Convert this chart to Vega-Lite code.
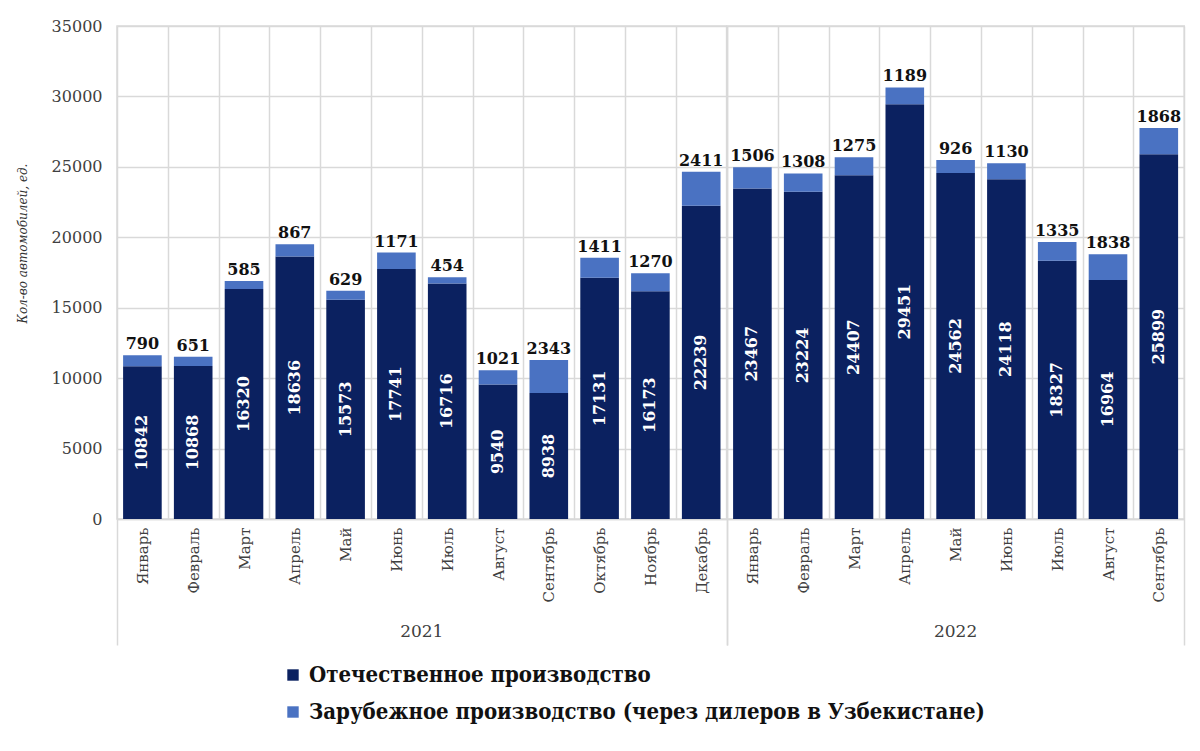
{
  "$schema": "https://vega.github.io/schema/vega-lite/v6.json",
  "padding": {"left": 16, "top": 18, "right": 10, "bottom": 5},
  "background": "white",
  "bounds": "flush",
  "data": {
    "values": [
      {"year": "2021", "month": "Январь", "dom": 10842, "for": 790},
      {"year": "2021", "month": "Февраль", "dom": 10868, "for": 651},
      {"year": "2021", "month": "Март", "dom": 16320, "for": 585},
      {"year": "2021", "month": "Апрель", "dom": 18636, "for": 867},
      {"year": "2021", "month": "Май", "dom": 15573, "for": 629},
      {"year": "2021", "month": "Июнь", "dom": 17741, "for": 1171},
      {"year": "2021", "month": "Июль", "dom": 16716, "for": 454},
      {"year": "2021", "month": "Август", "dom": 9540, "for": 1021},
      {"year": "2021", "month": "Сентябрь", "dom": 8938, "for": 2343},
      {"year": "2021", "month": "Октябрь", "dom": 17131, "for": 1411},
      {"year": "2021", "month": "Ноябрь", "dom": 16173, "for": 1270},
      {"year": "2021", "month": "Декабрь", "dom": 22239, "for": 2411},
      {"year": "2022", "month": "Январь", "dom": 23467, "for": 1506},
      {"year": "2022", "month": "Февраль", "dom": 23224, "for": 1308},
      {"year": "2022", "month": "Март", "dom": 24407, "for": 1275},
      {"year": "2022", "month": "Апрель", "dom": 29451, "for": 1189},
      {"year": "2022", "month": "Май", "dom": 24562, "for": 926},
      {"year": "2022", "month": "Июнь", "dom": 24118, "for": 1130},
      {"year": "2022", "month": "Июль", "dom": 18327, "for": 1335},
      {"year": "2022", "month": "Август", "dom": 16964, "for": 1838},
      {"year": "2022", "month": "Сентябрь", "dom": 25899, "for": 1868}
    ]
  },
  "transform": [{"fold": ["dom", "for"], "as": ["key", "value"]}],
  "facet": {
    "column": {
      "field": "year",
      "type": "ordinal",
      "title": null,
      "header": {
        "labelOrient": "bottom",
        "labelFont": "DejaVu Serif",
        "labelFontSize": 17,
        "labelColor": "#404040",
        "labelPadding": 105
      }
    }
  },
  "spacing": 0,
  "resolve": {"scale": {"x": "independent"}},
  "spec": {
    "width": {"step": 50.8},
    "height": 493,
    "encoding": {
      "x": {
        "field": "month",
        "type": "nominal",
        "sort": null,
        "title": null,
        "scale": {"paddingInner": 0, "paddingOuter": 0},
        "axis": {
          "labelAngle": -90,
          "labelAlign": "right",
          "labelBaseline": "middle",
          "labelPadding": -118,
          "labelFont": "DejaVu Serif",
          "labelFontSize": 15,
          "labelColor": "#404040",
          "domainColor": "#d9d9d9",
          "domainWidth": 1.5,
          "grid": true,
          "gridColor": "#d9d9d9",
          "gridWidth": 1.5,
          "tickBand": "extent",
          "tickSize": 126,
          "tickWidth": 1.5,
          "tickColor": {"condition": {"test": "datum.index === -1 || datum.index === 1 || (datum.value === 'Сентябрь' && datum.index > 0.8)", "value": "#d9d9d9"}, "value": "transparent"}
        }
      },
      "order": {"field": "key", "type": "nominal", "sort": "ascending"}
    },
    "layer": [
      {
        "mark": {"type": "bar", "width": {"band": 0.76}},
        "encoding": {
          "y": {
            "field": "value",
            "type": "quantitative",
            "stack": "zero",
            "scale": {"domain": [0, 35000]},
            "title": "Кол-во автомобилей, ед.",
            "axis": {
              "values": [0, 5000, 10000, 15000, 20000, 25000, 30000, 35000],
              "format": "d",
              "domain": false,
              "ticks": false,
              "grid": true,
              "gridColor": "#d9d9d9",
              "gridWidth": 1.5,
              "labelFont": "DejaVu Serif",
              "labelFontSize": 16,
              "labelColor": "#404040",
              "labelPadding": 15,
              "titleFont": "DejaVu Serif",
              "titleFontSize": 12,
              "titleFontStyle": "italic",
              "titleFontWeight": "normal",
              "titleColor": "#333333",
              "titlePadding": 22,
              "titleY": 217
            }
          },
          "color": {
            "field": "key",
            "type": "nominal",
            "scale": {"domain": ["dom", "for"], "range": ["#0b2160", "#4a72c2"]},
            "legend": {
              "title": null,
              "orient": "none",
              "legendX": 165,
              "legendY": 638,
              "direction": "vertical",
              "symbolType": "square",
              "symbolSize": 130,
              "symbolStrokeWidth": 0,
              "labelOffset": 5,
              "labelFont": "DejaVu Serif Condensed",
              "labelFontWeight": "bold",
              "labelFontSize": 22,
              "labelColor": "#111111",
              "labelLimit": 900,
              "rowPadding": 15,
              "labelExpr": "datum.value === 'dom' ? 'Отечественное производство' : 'Зарубежное производство (через дилеров в Узбекистане)'"
            }
          }
        }
      },
      {
        "transform": [{"filter": "datum.key === 'dom'"}],
        "mark": {"type": "text", "angle": 270, "align": "center", "baseline": "middle", "font": "DejaVu Serif", "fontSize": 16, "fontWeight": "bold", "color": "white"},
        "encoding": {
          "y": {"field": "value", "type": "quantitative", "stack": "zero", "bandPosition": 0.5},
          "detail": {"field": "key"},
          "text": {"field": "value", "type": "quantitative", "format": "d"}
        }
      },
      {
        "mark": {"type": "text", "align": "center", "baseline": "bottom", "dy": -3, "font": "DejaVu Serif", "fontSize": 16, "fontWeight": "bold", "color": "#111111"},
        "encoding": {
          "y": {"field": "value", "type": "quantitative", "stack": "zero"},
          "detail": {"field": "key"},
          "text": {"field": "value", "type": "quantitative", "format": "d"},
          "opacity": {"condition": {"test": "datum.key === 'for'", "value": 1}, "value": 0}
        }
      }
    ]
  },
  "config": {"view": {"stroke": "#d9d9d9", "strokeWidth": 1.5}}
}
